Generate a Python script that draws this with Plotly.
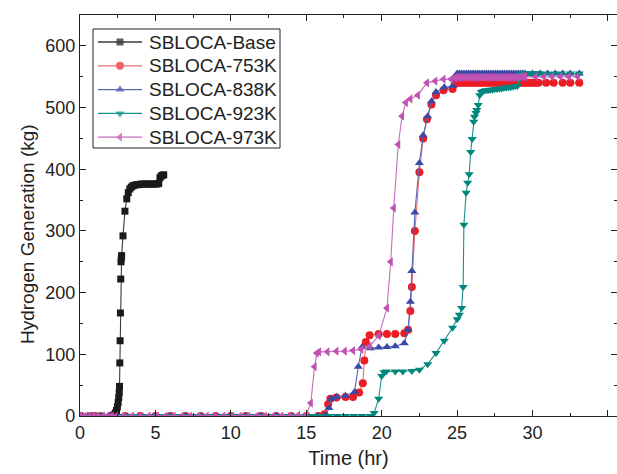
import plotly.graph_objects as go

# Hydrogen generation vs. time for the SBLOCA cases
base_t = [0, 0.7, 1.4, 2.1, 2.25, 2.35, 2.42, 2.48, 2.53, 2.57, 2.6, 2.62, 2.64, 2.66, 2.68, 2.7,
          2.72, 2.74, 2.76, 2.85, 2.98, 3.1, 3.2, 3.3, 3.4, 3.5, 3.6, 3.75, 3.9, 4.05, 4.2, 4.35,
          4.5, 4.65, 4.8, 4.95, 5.1, 5.22, 5.3, 5.38, 5.46, 5.55]
base_h = [0, 0, 0, 0, 2, 5, 9, 15, 22, 30, 38, 48, 86, 122, 167, 222,
          250, 256, 260, 292, 332, 352, 362, 368, 371, 373, 374, 375, 375, 376, 376, 376,
          376, 376, 376, 376, 376, 377, 386, 389, 390, 391]

k753_t = [0, 1, 2, 3, 4, 5, 6, 7, 8, 9, 10, 11, 12, 13, 14, 15, 15.8, 16.2, 16.45, 16.6, 17.0,
          17.6, 18.1, 18.5, 18.75, 18.85, 18.95, 19.2, 19.8, 20.35, 20.9, 21.5, 21.75, 21.9, 22.0,
          22.2, 22.5, 22.75, 23.0, 23.3, 23.6, 24.1, 24.7, 24.85,
          25.0, 25.15, 25.3, 25.45, 25.6, 25.75, 25.9, 26.05, 26.2, 26.35, 26.5, 26.65, 26.8, 26.95,
          27.1, 27.25, 27.4, 27.55, 27.7, 27.85, 28.0, 28.15, 28.3, 28.45, 28.6, 28.75, 28.9, 29.05,
          29.2, 29.35, 29.5, 29.65, 29.8, 29.95, 30.1, 30.25, 30.4,
          30.9, 31.4, 32.0, 32.5, 33.1]
k753_h = [0, 0, 0, 0, 0, 0, 0, 0, 0, 0, 0, 0, 0, 0, 0, 0, 0, 3, 19, 28, 30,
          31, 31, 38, 53, 90, 120, 131, 133, 133, 133, 134, 140, 170, 209,
          300, 395, 450, 481, 505, 520, 528, 530, 538,
          540, 540, 540, 540, 540, 540, 540, 540, 540, 540, 540, 540, 540, 540,
          540, 540, 540, 540, 540, 540, 540, 540, 540, 540, 540, 540, 540, 540,
          540, 540, 540, 540, 540, 540, 540, 540, 540,
          540, 540, 540, 540, 540]

k838_t = [0, 1, 2, 3, 4, 5, 6, 7, 8, 9, 10, 11, 12, 13, 14, 15, 15.8, 16.3, 16.5, 16.65, 17.0,
          17.6, 18.2, 18.45, 18.7, 19.25, 19.8, 20.35, 20.9, 21.5, 21.75, 21.9, 22.0,
          22.2, 22.5, 22.75, 23.05, 23.3, 23.6, 24.15, 24.7, 24.85,
          25.0, 25.15, 25.3, 25.45, 25.6, 25.75, 25.9, 26.05, 26.2, 26.35, 26.5, 26.65, 26.8, 26.95,
          27.1, 27.25, 27.4, 27.55, 27.7, 27.85, 28.0, 28.15, 28.3, 28.45, 28.6, 28.75, 28.9, 29.05,
          29.2, 29.35, 29.5, 30.0, 30.5, 31.0, 31.5, 32.0, 32.5, 33.1]
k838_h = [0, 0, 0, 0, 0, 0, 0, 0, 0, 0, 0, 0, 0, 0, 0, 0, 0, 2, 13, 28, 31,
          33, 39, 80, 112, 110, 111, 112, 113, 118, 140, 185, 235,
          330, 410, 455, 486, 510, 525, 533, 535, 550,
          555, 555, 555, 555, 555, 555, 555, 555, 555, 555, 555, 555, 555, 555,
          555, 555, 555, 555, 555, 555, 555, 555, 555, 555, 555, 555, 555, 555,
          555, 555, 555, 555, 555, 555, 555, 555, 555, 555]

k923_t = [0, 0.55, 1.1, 1.65, 2.2, 2.75, 3.3, 3.85, 4.4, 4.95, 5.5, 6.05, 6.6, 7.15, 7.7, 8.25,
          8.8, 9.35, 9.9, 10.45, 11.0, 11.55, 12.1, 12.65, 13.2, 13.75, 14.3, 14.85, 15.4, 15.95,
          16.5, 17.05, 17.6, 18.15, 18.7, 19.25, 19.5, 19.8, 20.0, 20.15, 20.3, 20.9, 21.4, 22.0,
          22.5, 23.05, 23.6, 24.15, 24.7, 25.0, 25.15, 25.3, 25.4, 25.45, 25.6, 25.7, 25.8, 25.9,
          26.0, 26.1, 26.15, 26.25, 26.3, 26.4, 26.5, 26.6,
          26.75, 26.9, 27.05, 27.2, 27.35, 27.5, 27.65, 27.8, 27.95, 28.1, 28.25, 28.4, 28.55, 28.7,
          28.85, 29.0, 29.1,
          29.2, 29.35, 29.5, 29.65, 29.8, 29.95, 30.1, 30.25, 30.4,
          30.8, 31.4, 31.9, 32.5, 33.1]
k923_h = [0, 0, 0, 0, 0, 0, 0, 0, 0, 0, 0, 0, 0, 0, 0, 0,
          0, 0, 0, 0, 0, 0, 0, 0, 0, 0, 0, 0, 0, 0,
          0, 0, 0, 0, 0, 0, 5, 28, 65, 71, 72, 72, 72, 73,
          75, 84, 102, 122, 143, 157, 164, 175, 209, 310, 362, 378, 392, 428,
          449, 477, 485, 491, 496, 504, 520, 525,
          527, 528, 528, 529, 529, 530, 530, 531, 531, 532, 532, 533, 533, 534,
          535, 535, 545,
          555, 555, 555, 555, 555, 555, 555, 555, 555,
          555, 555, 555, 555, 555]

k973_t = [0, 0.3, 0.6, 0.9, 1.2, 1.5, 1.8, 2.1, 2.4, 2.9, 3.45, 4.0, 4.55, 5.1, 5.65, 6.2,
          6.75, 7.3, 7.85, 8.4, 8.95, 9.5, 10.05, 10.6, 11.15, 11.7, 12.25, 12.8, 13.35, 13.9,
          14.45, 15.0, 15.3, 15.55, 15.7, 15.85, 16.4, 17.0, 17.55, 18.1, 18.65, 19.2, 19.8,
          20.35, 20.6, 20.8, 21.1, 21.35, 21.6, 21.9, 22.4, 23.0, 23.55, 24.1, 24.6, 24.85,
          25.0, 25.15, 25.3, 25.45, 25.6, 25.75, 25.9, 26.05, 26.2, 26.35, 26.5, 26.65, 26.8, 26.95,
          27.1, 27.25, 27.4, 27.55, 27.7, 27.85, 28.0, 28.15, 28.3, 28.45, 28.6, 28.75, 28.9, 29.05,
          29.2, 29.35, 29.5, 30.2, 30.75, 31.3, 31.85, 32.4, 33.0]
k973_h = [0, 0, 0, 0, 0, 0, 0, 0, 0, 0, 0, 0, 0, 0, 0, 0,
          0, 0, 0, 0, 0, 0, 0, 0, 0, 0, 0, 0, 0, 0,
          1, 2, 21, 80, 102, 104, 104, 105, 105, 106, 108, 113, 130,
          175, 250, 337, 440, 486, 508, 514, 520, 540, 543, 546, 546, 548,
          549, 549, 549, 549, 549, 549, 549, 549, 549, 549, 549, 549, 549, 549,
          549, 549, 549, 549, 549, 549, 549, 549, 549, 549, 549, 549, 549, 549,
          550, 550, 550, 550, 550, 550, 550, 550, 550]

series_names = ["SBLOCA-Base", "SBLOCA-753K", "SBLOCA-838K", "SBLOCA-923K", "SBLOCA-973K"]
series_t = [base_t, k753_t, k838_t, k923_t, k973_t]
series_h = [base_h, k753_h, k838_h, k923_h, k973_h]
marker_colors = ["#1a1a1a", "#ec1c24", "#3a48a6", "#00877e", "#c052b4"]
line_colors = ["#3a3a3a", "#f06c6c", "#5566bb", "#1a928a", "#c86cbe"]
symbols = ["square", "circle", "triangle-up", "triangle-down", "triangle-left"]
sizes = [7, 8, 8, 8, 8]

FONT = "Liberation Sans, Arial, sans-serif"
INK = "#222"

fig = go.Figure()
for name, t, h, mc, lc, sym, sz in zip(series_names, series_t, series_h,
                                       marker_colors, line_colors, symbols, sizes):
    fig.add_trace(go.Scatter(
        x=t, y=h, name=name, mode="lines+markers", showlegend=False,
        line=dict(color=lc, width=1.1),
        marker=dict(symbol=sym, size=sz, color=mc, line=dict(width=0)),
    ))

# Plot-area geometry in pixels, used to place the boxed key
W, H = 617, 474
ML, MR, MT, MB = 80, 0, 15, 58
pw, ph = W - ML - MR, H - MT - MB


def px_x(p):
    return (p - ML) / pw


def px_y(p):
    return (H - MB - p) / ph


key_rows = [42, 65.8, 89.6, 113.4, 137.2]
shapes = [dict(type="rect", xref="paper", yref="paper",
               x0=px_x(93), x1=px_x(280), y0=px_y(148), y1=px_y(29),
               line=dict(color=INK, width=1), fillcolor="white", layer="below")]
annotations = []
for row, name, lc in zip(key_rows, series_names, line_colors):
    shapes.append(dict(type="line", xref="paper", yref="paper",
                       x0=px_x(98), x1=px_x(142), y0=px_y(row), y1=px_y(row),
                       line=dict(color=lc, width=1.3), layer="above"))
    annotations.append(dict(xref="paper", yref="paper", x=px_x(147), y=px_y(row),
                            text=name, showarrow=False, xanchor="left", yanchor="middle",
                            font=dict(family=FONT, size=19, color=INK)))

# key symbols on an overlay axis spanning the plot area in [0, 1]
fig.add_trace(go.Scatter(
    x=[px_x(120)] * 5, y=[px_y(r) for r in key_rows], mode="markers",
    xaxis="x2", yaxis="y2", showlegend=False, hoverinfo="skip", cliponaxis=False,
    marker=dict(symbol=symbols, size=sizes, color=marker_colors, line=dict(width=0)),
))

annotations.append(dict(xref="paper", yref="paper", x=px_x(27), y=px_y(234),
                        text="Hydrogen Generation (kg)", textangle=-90, showarrow=False,
                        xanchor="center", yanchor="middle",
                        font=dict(family=FONT, size=19, color=INK)))

tick_font = dict(family=FONT, size=18, color=INK)

fig.update_layout(
    width=W, height=H,
    margin=dict(l=ML, r=MR, t=MT, b=MB),
    paper_bgcolor="white", plot_bgcolor="white",
    showlegend=False,
    shapes=shapes, annotations=annotations,
    xaxis=dict(
        range=[0, 35.6], tick0=0, dtick=5, ticks="inside", ticklen=6, tickwidth=1,
        tickcolor=INK, showline=True, linecolor=INK, linewidth=1.2, mirror="ticks",
        showgrid=False, zeroline=False, tickfont=tick_font,
        minor=dict(ticks="inside", dtick=2.5, ticklen=3, tickcolor=INK, showgrid=False),
        title=dict(text="Time (hr)", font=dict(family=FONT, size=20, color=INK), standoff=9),
    ),
    yaxis=dict(
        range=[0, 650], tick0=0, dtick=100, ticks="inside", ticklen=6, tickwidth=1,
        tickcolor=INK, showline=True, linecolor=INK, linewidth=1.2, mirror="ticks",
        showgrid=False, zeroline=False, tickfont=tick_font,
        minor=dict(ticks="inside", dtick=50, ticklen=3, tickcolor=INK, showgrid=False),
    ),
    xaxis2=dict(overlaying="x", range=[0, 1], visible=False, fixedrange=True),
    yaxis2=dict(overlaying="y", range=[0, 1], visible=False, fixedrange=True),
)

fig.write_html("out.html")
